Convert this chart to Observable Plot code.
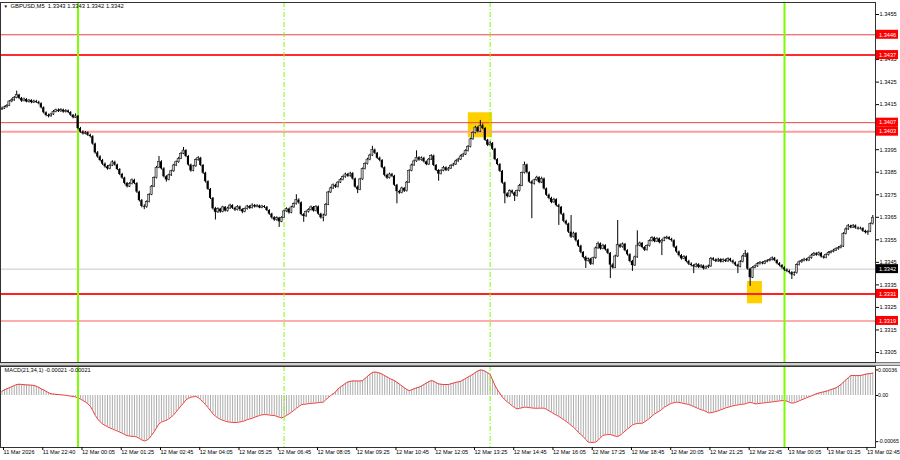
<!DOCTYPE html>
<html><head><meta charset="utf-8">
<script src="https://cdn.jsdelivr.net/npm/d3@7"></script>
<script src="https://cdn.jsdelivr.net/npm/@observablehq/plot@0.6"></script>
<style>
html,body{margin:0;padding:0;background:#fff;}
#chart{position:relative;width:900px;height:460px;overflow:hidden;background:#fff;}
#chart svg{position:absolute;left:0;}
#sep{position:absolute;left:0;top:362px;width:900px;height:2px;border-top:1px solid #7a7a7a;border-bottom:1px solid #7a7a7a;background:#d0d0d0;}
</style></head><body><div id="chart"><div id="sep"></div></div><script>
// ---- DATA (price values in pips above priceBase) ----
const priceBase = 1.33;
const firstOpen = 112.8;
const closes = [
113.2,113.8,114.5,116.4,116.9,118.0,119.2,117.8,116.6,117.3,
116.2,116.8,115.9,116.4,116.0,115.4,113.6,111.4,110.2,109.8,
110.6,111.8,112.5,112.0,112.6,111.7,112.2,111.5,110.3,109.2,
109.8,104.4,102.8,102.0,102.5,101.4,100.8,97.5,93.6,91.8,
90.2,88.6,87.4,86.5,87.9,89.4,88.2,86.2,84.0,82.4,
80.0,78.6,79.8,81.4,80.0,76.2,72.4,69.8,69.5,71.8,
75.0,78.6,82.4,87.0,89.6,86.5,83.0,81.6,83.6,85.4,
88.0,89.4,91.0,93.2,94.6,92.0,88.2,85.6,87.6,90.4,
91.2,88.0,84.6,80.8,77.4,73.4,68.8,67.2,68.6,67.4,
69.4,67.8,68.9,70.2,69.0,68.2,69.6,68.4,67.4,68.6,
69.8,69.0,70.2,69.6,70.0,69.2,69.8,69.4,68.0,66.4,
64.8,63.8,64.6,63.0,64.8,67.6,68.6,67.0,69.4,70.8,
72.6,71.4,66.2,65.4,67.4,68.2,69.4,67.8,69.6,66.4,
64.8,65.8,70.6,76.0,77.8,79.2,78.4,80.4,81.6,82.8,
84.0,83.2,84.4,82.0,78.4,77.2,81.8,86.4,88.6,90.6,
92.4,94.8,93.4,91.2,90.2,87.0,83.6,82.4,84.0,83.2,
79.2,76.4,75.8,77.8,76.6,80.4,85.6,88.0,89.8,91.4,
90.4,91.2,89.6,88.4,90.6,92.2,88.0,85.8,84.2,85.6,
87.0,85.8,86.6,87.8,88.4,89.8,90.6,92.0,92.8,94.4,
96.2,99.6,102.4,104.8,103.0,105.6,104.4,99.2,97.0,97.8,
95.2,90.6,88.4,85.4,80.2,75.4,74.2,76.6,75.8,74.4,
76.6,79.0,84.6,88.2,84.8,80.6,79.8,81.4,82.6,80.4,
82.0,77.6,74.8,73.4,71.6,72.8,70.2,69.4,66.4,63.2,
62.0,58.4,56.2,57.8,54.6,52.2,49.4,47.2,45.6,46.4,
44.2,46.8,51.2,53.2,51.0,52.4,50.6,49.0,43.8,42.6,
47.6,52.6,51.8,53.0,50.2,48.4,45.4,43.6,47.2,52.4,
53.4,51.6,50.4,52.2,54.4,55.8,54.2,55.4,53.8,54.6,
55.6,56.0,55.2,54.6,51.8,49.6,48.0,46.6,47.4,45.4,
44.2,43.6,43.0,44.0,42.8,43.4,42.2,42.8,43.2,46.6,
46.0,45.4,46.2,45.2,46.0,45.4,46.4,45.6,44.8,43.8,
43.0,45.2,47.6,48.8,42.0,38.2,42.6,43.2,44.2,44.8,
44.4,45.2,45.6,46.0,46.8,45.8,44.4,43.6,42.6,41.6,
41.0,40.4,39.4,40.2,43.8,45.0,45.6,46.2,45.8,46.8,
48.0,48.8,48.2,49.0,47.4,47.0,48.2,49.2,49.6,50.2,
50.8,51.4,52.0,57.6,59.6,61.0,60.4,61.2,60.2,59.8,
60.0,58.8,58.2,58.6,62.0,64.8];
const highs = [
113.9,114.3,115.0,116.8,117.6,118.6,121.0,119.6,118.2,117.9,
117.7,117.3,117.2,117.0,116.9,116.5,115.8,114.0,111.8,110.8,
111.2,112.4,113.0,113.1,113.2,113.0,112.8,112.6,111.9,110.6,
110.9,110.2,104.9,103.4,103.1,102.9,101.9,101.2,97.9,94.2,
92.3,90.7,89.1,88.0,88.5,90.1,89.9,88.6,86.6,84.5,
82.8,80.5,80.4,82.0,81.9,80.4,76.6,72.9,70.6,72.3,
75.5,79.1,82.9,87.6,92.0,90.1,87.0,83.5,84.1,85.9,
88.5,90.0,91.6,93.8,96.0,95.0,92.4,88.6,88.1,90.9,
91.9,91.6,88.4,85.0,81.2,77.8,73.8,69.4,69.2,69.0,
69.9,69.8,69.5,70.8,70.6,69.4,70.1,70.0,68.8,69.1,
70.3,70.2,71.0,70.7,70.6,70.4,70.3,70.2,69.8,68.4,
66.8,65.3,65.2,65.0,65.3,68.1,69.2,69.0,69.9,71.4,
75.0,73.2,71.8,66.7,67.9,68.8,70.0,69.8,70.2,70.0,
66.8,66.4,71.1,76.5,78.4,79.8,79.7,80.9,82.2,83.4,
84.6,84.5,85.0,84.8,82.4,78.9,82.3,86.9,89.2,91.2,
93.0,96.5,95.3,93.8,91.7,90.6,87.4,84.1,84.6,84.5,
83.6,79.6,77.0,78.4,78.2,80.9,86.1,88.6,90.4,94.5,
91.9,91.8,91.6,90.0,91.1,92.8,92.6,88.4,86.2,86.1,
87.6,87.4,87.1,88.3,89.0,90.3,91.2,92.6,93.4,95.0,
96.8,100.1,102.9,105.4,105.2,108.0,106.4,104.8,99.6,98.8,
98.2,95.6,91.0,88.8,85.8,80.6,75.9,77.2,77.1,76.2,
77.1,79.6,85.1,89.5,88.6,85.2,81.2,81.9,83.2,83.0,
82.8,82.4,78.0,75.3,73.9,73.4,73.2,70.8,69.8,66.8,
63.7,62.4,65.8,58.4,58.2,55.0,52.6,49.8,47.7,47.0,
46.8,47.3,51.8,54.0,53.6,53.0,52.8,51.0,49.4,44.4,
48.2,63.6,53.2,53.6,53.4,50.6,48.8,45.9,47.8,59.0,
54.0,53.8,52.0,52.8,55.0,56.4,56.2,56.0,55.8,55.2,
56.2,56.6,56.4,55.7,55.0,52.2,50.0,48.5,48.0,47.8,
45.9,44.8,44.1,44.6,44.4,44.0,43.8,43.4,43.8,47.2,
47.1,46.5,46.8,46.6,46.6,46.4,47.0,46.8,46.0,45.2,
44.2,45.8,48.2,50.3,49.2,42.4,43.1,43.8,44.8,45.4,
45.3,45.8,46.2,46.6,47.4,47.2,46.2,44.9,44.0,43.0,
42.1,41.6,40.9,40.8,44.3,45.6,46.2,46.8,46.7,47.4,
48.6,49.4,49.3,49.6,49.4,47.9,48.8,49.8,50.2,50.8,
51.4,52.0,52.6,58.2,60.2,61.8,61.5,61.8,61.6,60.7,
60.6,60.4,59.3,59.1,62.5,65.8];
const lows = [
112.4,112.9,113.5,114.2,115.9,116.5,117.6,117.2,116.0,116.2,
115.8,115.7,115.4,115.5,115.5,114.9,113.1,110.9,109.6,109.1,
109.4,110.2,111.4,111.5,111.6,111.2,111.3,111.0,109.8,108.7,
108.9,103.8,102.3,101.5,101.6,100.9,100.2,97.0,93.0,91.2,
89.6,88.0,86.8,85.9,86.1,87.5,87.7,85.7,83.5,81.9,
79.4,78.0,78.2,79.4,79.5,75.6,71.8,69.2,68.4,69.0,
71.4,74.6,78.2,82.0,86.6,86.0,82.5,80.6,81.2,83.1,
85.0,87.5,89.0,90.6,92.8,91.5,87.7,85.0,85.2,87.2,
89.9,87.5,84.0,80.2,76.9,72.9,68.2,63.8,66.7,66.8,
67.0,67.3,67.3,68.5,68.5,67.6,67.8,67.6,66.6,67.0,
68.2,68.5,68.7,69.1,69.2,68.8,68.8,68.9,67.5,65.9,
64.2,63.2,63.3,60.5,62.6,64.4,67.2,66.4,66.6,69.0,
70.4,70.8,65.6,62.8,65.0,66.9,67.8,67.3,67.4,65.9,
64.2,63.0,65.4,70.2,75.6,77.3,77.8,78.0,80.0,81.2,
82.3,82.7,82.8,81.5,77.9,75.5,76.8,81.4,86.0,88.2,
90.1,92.0,92.9,90.7,89.6,86.5,83.0,81.8,82.0,82.6,
78.7,71.0,75.2,75.4,76.0,76.2,80.0,85.2,87.6,89.4,
89.9,89.9,89.1,87.9,88.0,90.2,87.5,85.3,81.0,83.8,
85.2,85.3,85.4,86.2,87.4,88.0,89.4,90.2,91.6,92.4,
94.0,95.8,99.2,102.0,102.5,102.6,103.9,98.7,96.4,96.6,
94.7,90.1,87.9,84.9,79.7,71.0,73.6,73.8,75.2,72.0,
74.0,76.2,78.6,84.2,84.3,80.1,64.4,79.3,81.0,79.9,
80.0,77.1,74.3,72.8,71.0,71.2,69.6,61.4,65.9,62.6,
61.4,57.8,55.6,55.8,54.0,51.6,48.8,46.6,42.3,45.1,
43.6,43.8,46.4,50.8,50.4,50.6,50.0,48.4,37.8,42.0,
42.2,47.2,51.2,51.3,49.7,47.8,44.8,41.0,43.2,46.8,
51.9,51.0,49.8,50.0,51.8,54.0,53.7,53.8,53.2,48.0,
54.2,55.1,54.7,54.0,51.2,49.0,47.4,46.0,46.2,44.8,
43.6,43.0,40.0,42.5,42.2,42.3,41.6,41.8,42.3,42.8,
45.5,44.9,45.0,44.7,44.8,44.9,45.0,45.1,44.2,43.2,
40.0,42.6,44.8,47.2,41.5,34.3,37.8,42.2,42.8,43.8,
43.9,44.0,44.8,45.2,45.6,45.3,43.9,43.0,42.0,41.0,
40.4,39.8,37.4,38.8,39.8,43.4,44.6,45.2,45.3,45.4,
46.4,47.6,47.7,47.8,46.9,46.4,46.6,47.8,48.8,49.2,
49.8,50.4,51.0,51.6,57.2,59.2,59.9,60.0,59.7,59.3,
59.4,58.3,57.6,57.0,58.2,61.6];
// MACD(21,34,1) main values, in units of 0.00001
const macdValues = [
6,8,9.5,11,12.5,14,15.5,15.8,15.6,15.2,
15,14.8,14.5,14.2,13,11.4,9.4,7.6,5.8,4,
2.4,2,1.6,1.3,1,0.6,0.2,-0.3,-0.8,-1.4,
-2,-3.3,-5,-7,-9.2,-11.7,-15,-21,-28,-33,
-37,-40,-42,-44,-45.6,-47,-48.5,-50,-51.5,-53,
-55,-56.5,-57,-57.5,-57.7,-58.5,-60.5,-62.5,-64,-63,
-60.5,-56,-51,-45.5,-40,-37.5,-36,-35,-32.8,-30.5,
-27,-23,-18.8,-14.5,-10.5,-6,-4,-2.5,-1.8,-1.4,
-3,-6,-9.4,-13,-17,-21.5,-25.8,-29,-31.5,-33.5,
-35,-36,-37,-37.5,-38,-38,-37.8,-37.2,-36.5,-35.5,
-34,-33,-32,-30.5,-29.5,-28,-27.2,-26.8,-27,-27.5,
-28,-28,-29.5,-30.5,-31.5,-30,-28,-26,-23.5,-21,
-18,-15.5,-13,-12.5,-12,-11.5,-11,-10.8,-10.5,-10,
-9.6,-9.4,-6,-3,0,2.5,5,9.4,12,14.5,
17,19,20,20.5,20.5,20.3,20.5,21,24,27,
30,32.5,33,32.5,31.5,30,28,26,24,22.5,
21,18.5,16,13.5,11,8.5,7,8,9.5,10.8,
11.7,13.5,15.5,17.5,19.5,21,20,18,16.4,15.8,
15.5,15.5,15.5,16.5,17.5,18.5,19.2,20,22,24,
26,28,30,32.5,34.5,36,35.5,34,32,29.5,
22,14,8,3,-2.3,-6,-9,-11.7,-14.5,-17,
-18.8,-18,-17.2,-16.4,-16.5,-17,-17.5,-17.8,-18,-17.8,
-17.8,-17.8,-19.5,-21.5,-23.5,-25.8,-27.5,-29.5,-31.8,-34,
-36.5,-39,-42,-44.6,-48,-52,-55,-58,-62,-65.7,
-66,-66,-65.7,-63,-59.5,-56,-55.5,-55,-55,-56,
-57.2,-57.7,-56,-53,-50,-47,-44.5,-41.5,-40,-39.5,
-39.2,-39,-37,-34.5,-32,-29,-26,-24,-22,-19.5,
-16.4,-14.5,-12.5,-11,-10,-9.4,-9.6,-10.5,-11.2,-12,
-12.7,-14,-15.5,-17,-18.5,-20,-21,-22.5,-24.4,-24.2,
-23.5,-22.5,-21.5,-20.2,-18.8,-17.5,-16.5,-15.5,-14.5,-13.8,
-13.2,-12.6,-12.2,-11.7,-10.5,-9.4,-10.5,-11.7,-11.5,-11,
-10.6,-10.2,-9.8,-9.4,-9,-8.5,-8,-7.6,-7.2,-7,
-8,-9.4,-10.8,-10.2,-9,-7.5,-6,-4.7,-3.2,-1.8,
-0.5,1,2.4,3.5,4.4,5.2,6,7.2,8.5,9.6,
10.8,13,15.5,18.8,22,25,28,28.2,28.1,28,
28.2,29,30,30.5,31,31.5];
// time axis: bar index of each label and its text
const timeTickIdx = [0,16,32,48,64,80,96,112,128,144,160,176,192,208,224,240,256,272,288,304,320,336,352];
const timeLabels = ["11 Mar 2026","11 Mar 22:40","12 Mar 00:05","12 Mar 01:25","12 Mar 02:45","12 Mar 04:05","12 Mar 05:25","12 Mar 06:45","12 Mar 08:05","12 Mar 09:25","12 Mar 10:45","12 Mar 12:05","12 Mar 13:25","12 Mar 14:45","12 Mar 16:05","12 Mar 17:25","12 Mar 18:45","12 Mar 20:05","12 Mar 21:25","12 Mar 22:45","13 Mar 00:05","13 Mar 01:25","13 Mar 02:45"];
const priceTicks = [1.3305,1.3315,1.3325,1.3335,1.3345,1.3355,1.3365,1.3375,1.3385,1.3395,1.3405,1.3415,1.3425,1.3435,1.3455];
const macdTicks = [0.00036, 0, -0.00065];
// horizontal levels
const levelValues = [1.3446, 1.3437, 1.3407, 1.3403, 1.3331, 1.3319];
const levelWidths = [1, 2, 1, 2, 2, 1.5];
const levelColors = ["#f04040", "#ff2a2a", "#f04040", "#ff9c9c", "#ff2020", "#ff9090"];
const bidPrice = 1.3342;
// vertical session lines (bar index)
const solidLines = [31, 319];
const dashedLines = [115, 199];
// highlighted zones: bar index range and price range (pips above base)
const zoneStart = [190.1, 303.9];
const zoneEnd = [200.0, 310.0];
const zoneTop = [111.4, 36.5];
const zoneBottom = [100.3, 26.6];
const titleText = "GBPUSD,M5  1.3343 1.3343 1.3342 1.3342";
const macdText = "MACD(21,34,1) -0.00021 -0.00021";

// ---- BUILD ----
const toPrice = p => priceBase + p / 10000;
const bars = closes.map((c, i) => ({
  i, o: toPrice(i === 0 ? firstOpen : closes[i - 1]), c: toPrice(c),
  h: toPrice(highs[i]), l: toPrice(lows[i])
}));
const upBars = bars.filter(d => d.c >= d.o);
const downBars = bars.filter(d => d.c < d.o);
const macd = macdValues.map((v, i) => ({i, v: v / 100000}));
const levels = levelValues.map((v, k) => ({v, w: levelWidths[k], col: levelColors[k]}));
const zones = zoneStart.map((s, k) => ({x1: s, x2: zoneEnd[k], y1: toPrice(zoneTop[k]), y2: toPrice(zoneBottom[k])}));
const boxes = [...levels.map(d => ({v: d.v, col: "#ff0000"})), {v: bidPrice, col: "#000000"}];
const xDomain = [-0.611, 356.1];
const xEnd = () => xDomain[1];
const font = "'Liberation Sans', Arial, sans-serif";
const green = "#7CFC00";

const main = Plot.plot({
  width: 900, height: 364, marginTop: 2, marginBottom: 2, marginLeft: 0, marginRight: 25,
  style: {fontFamily: font, fontSize: "5.6px", color: "#000", background: "transparent", overflow: "visible"},
  x: {domain: xDomain, axis: null},
  y: {domain: [1.330056, 1.346033], axis: null},
  color: {type: "identity"},
  marks: [
    Plot.rect(zones, {x1: "x1", x2: "x2", y1: "y1", y2: "y2", fill: "#FFD000"}),
    Plot.ruleY([bidPrice], {stroke: "#c8c8c8", strokeWidth: 1}),
    Plot.ruleY(levels, {y: "v", stroke: "col", strokeWidth: "w"}),
    Plot.ruleX(solidLines, {x: d => d, stroke: green, strokeWidth: 2}),
    Plot.ruleX(dashedLines, {x: d => d, stroke: green, strokeWidth: 1, strokeDasharray: "5,2,1,2"}),
    Plot.ruleX(bars, {x: "i", y1: "l", y2: "h", stroke: "#000", strokeWidth: 1}),
    Plot.rect(upBars, {x1: d => d.i - 0.42, x2: d => d.i + 0.42, y1: "o", y2: "c",
      fill: "#c4c4c4", stroke: "#000", strokeWidth: 0.5}),
    Plot.rect(downBars, {x1: d => d.i - 0.42, x2: d => d.i + 0.42, y1: "o", y2: "c", fill: "#000"}),
    Plot.frame({stroke: "#333"}),
    Plot.axisY({anchor: "right", ticks: priceTicks, tickFormat: d => d.toFixed(4), tickSize: 3, tickPadding: 1, label: null}),
    Plot.rect(boxes, {x1: xEnd, x2: xEnd, y1: "v", y2: "v", insetLeft: 1, insetRight: -23, insetTop: -4.5, insetBottom: -4.5, fill: "col"}),
    Plot.text(boxes, {x: xEnd, y: "v", text: d => d.v.toFixed(4), dx: 3.5, textAnchor: "start", fill: "#fff"}),
    Plot.text(["\u25BC"], {frameAnchor: "top-left", dx: 3, dy: 2.5, lineAnchor: "top", textAnchor: "start", fontSize: 4.5, fill: "#000"}),
    Plot.text([titleText], {frameAnchor: "top-left", dx: 10, dy: 1.5, lineAnchor: "top", textAnchor: "start", fontSize: 5.8, fill: "#000"})
  ]
});
main.style.top = "0px";

const macdPlot = Plot.plot({
  width: 900, height: 96, marginTop: 2, marginBottom: 13, marginLeft: 0, marginRight: 25,
  style: {fontFamily: font, fontSize: "5.6px", color: "#000", background: "transparent", overflow: "visible"},
  x: {domain: xDomain, axis: null},
  y: {domain: [-0.000732, 0.0004085], axis: null},
  marks: [
    Plot.ruleX(macd, {x: "i", y1: 0, y2: "v", stroke: "#adadad", strokeWidth: 1}),
    Plot.line(macd, {x: "i", y: "v", stroke: "#f03c3c", strokeWidth: 1}),
    Plot.ruleX(solidLines, {x: d => d, stroke: green, strokeWidth: 2}),
    Plot.ruleX(dashedLines, {x: d => d, stroke: green, strokeWidth: 1, strokeDasharray: "5,2,1,2"}),
    Plot.frame({stroke: "#333"}),
    Plot.axisY({anchor: "right", ticks: macdTicks, tickFormat: d => d === 0 ? "0.00" : d.toFixed(5), tickSize: 2, tickPadding: 0.5, fontSize: 5.3, label: null}),
    Plot.axisX({anchor: "bottom", ticks: timeTickIdx, tickFormat: d => timeLabels[timeTickIdx.indexOf(d)], tickSize: 3, tickPadding: 0, textAnchor: "start", dx: 1.5, label: null}),
    Plot.text([macdText], {frameAnchor: "top-left", dx: 4, dy: 1.5, lineAnchor: "top", textAnchor: "start", fontSize: 5.6, fill: "#000"})
  ]
});
macdPlot.style.top = "364px";

const chart = document.getElementById("chart");
chart.appendChild(main);
chart.appendChild(macdPlot);
</script></body></html>
